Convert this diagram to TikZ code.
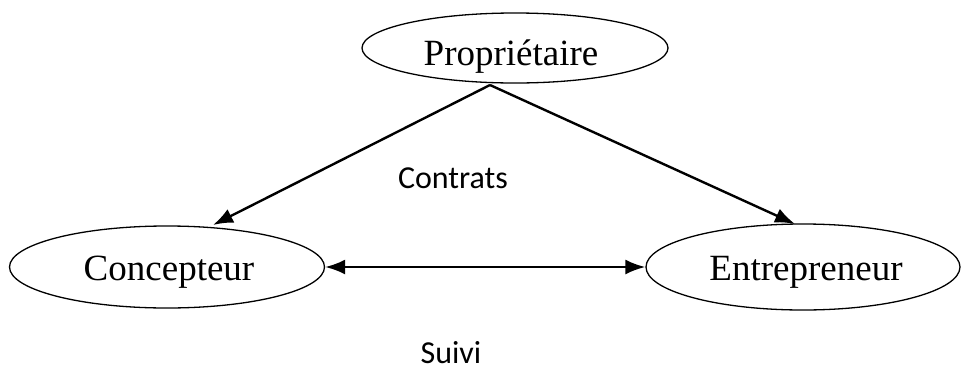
\documentclass[tikz,border=0pt]{standalone}
\usepackage{fontspec}
\setmainfont{Liberation Serif}
\newfontfamily\calfont{Carlito}
\usetikzlibrary{shapes.geometric,arrows.meta}
\begin{document}
\begin{tikzpicture}[x=1pt,y=-1pt,
  ell/.style={draw,ellipse,line width=1.3pt,inner sep=0pt},
  txt/.style={anchor=base,inner sep=0pt,font=\fontsize{37}{42}\selectfont},
  conn/.style={line width=2.4pt,-{Latex[length=20pt,width=15pt]}},
  lbl/.style={anchor=base,inner sep=0pt,text depth=0pt,font=\calfont\fontsize{32}{38}\selectfont}]
\useasboundingbox (0,0) rectangle (962,370);
\node[ell,minimum width=306pt,minimum height=70pt] (p) at (515,48) {};
\node[ell,minimum width=315pt,minimum height=82pt] (c) at (167,267) {};
\node[ell,minimum width=314pt,minimum height=86pt] (e) at (803,267) {};
\node[txt] (pt) at (511,65) {Propriétaire};
\node[txt] (cpt) at (169,280) {Concepteur};
\node[txt] (et) at (806,280) {Entrepreneur};
\coordinate (s) at (490,85);
\coordinate (ctip) at (213,225);
\coordinate (etip) at (795,224);
\draw[conn] (s) -- (ctip);
\draw[conn] (s) -- (etip);
\draw[conn,{Latex[length=20pt,width=15pt]}-{Latex[length=20pt,width=15pt]}] (c.east) -- (e.west);
\node[lbl] (contrats) at (453,188) {Contrats};
\node[lbl] (suivi) at (451,363) {Suivi};
\end{tikzpicture}
\end{document}
